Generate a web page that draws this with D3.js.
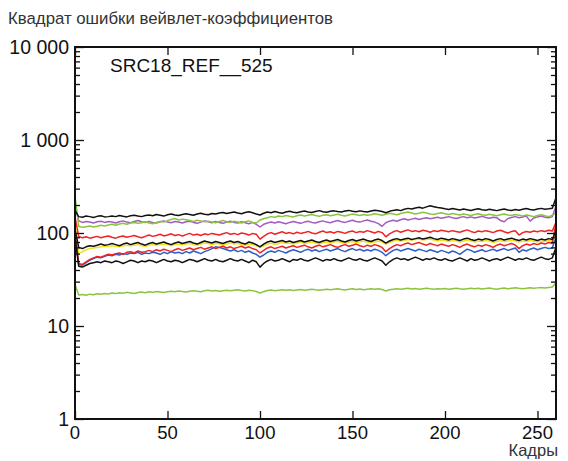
<!DOCTYPE html>
<html><head><meta charset="utf-8">
<script src="https://cdn.jsdelivr.net/npm/d3@7"></script>
<style>body{margin:0;background:#fff;} svg{display:block;font-family:"Liberation Sans",Arial,sans-serif;}</style>
</head><body>
<svg id="c" width="568" height="461"></svg>
<script>
const title = "Квадрат ошибки вейвлет-коэффициентов";
const xLabel = "Кадры";
const seqName = "SRC18_REF__525";
const xTicks = [0, 50, 100, 150, 200, 250];
const yTicks = [1, 10, 100, 1000, 10000];
const yTickLabels = ["1", "10", "100", "1 000", "10 000"];
const frameStep = 2; // values sampled every 2 frames, frames 0..260

const black1 = [175,150,148,152,150,147,151,153,149,150,
152,150,154,151,149,153,155,152,150,154,
156,153,158,155,152,157,160,156,154,158,
161,158,155,160,163,159,157,162,160,164,
166,162,165,168,164,161,166,169,165,160,
156,163,168,165,170,166,163,168,171,167,
165,169,172,168,166,170,174,169,167,171,
173,170,168,172,175,171,169,173,170,168,
172,176,173,170,165,171,175,178,174,180,
184,181,186,189,185,191,196,192,188,186,
182,179,183,180,177,181,178,175,179,182,
178,176,180,177,174,178,181,177,175,179,
176,180,183,179,177,181,184,180,182,185,240];

const greenTop = [250,118,115,117,119,116,118,121,119,122,
124,121,125,127,124,128,130,127,129,132,
128,126,130,133,131,136,140,143,138,141,
139,136,133,137,135,132,134,131,129,133,
136,132,130,134,131,128,132,135,130,128,
138,142,146,150,148,152,150,154,151,149,
153,156,152,155,158,154,151,155,157,153,
156,159,155,152,156,160,157,154,158,155,
157,161,158,155,159,163,160,157,162,165,
168,164,160,163,167,164,160,158,162,165,
161,158,162,159,156,160,157,154,158,161,
157,155,159,156,153,157,160,156,154,158,
155,152,156,153,150,154,157,153,150,155,165];

const purple = [200,135,130,133,131,128,132,134,130,133,
131,128,132,135,131,129,133,136,132,130,
133,130,128,132,135,131,129,133,131,128,
132,134,130,127,131,135,132,129,133,130,
127,131,134,130,128,132,129,126,130,124,
116,124,128,131,128,132,129,126,130,133,
130,127,131,134,130,128,132,135,131,129,
133,136,132,130,134,137,133,131,135,138,
134,131,126,118,129,134,137,134,139,142,
138,141,144,140,143,146,142,145,148,144,
147,150,146,143,147,150,146,149,145,148,
151,147,144,148,146,136,132,143,147,150,
146,149,152,134,145,149,152,148,146,150,195];

const redTop = [150,92,89,91,88,90,92,89,91,93,
90,88,91,93,90,92,94,91,89,92,
95,92,94,97,93,95,98,94,96,93,
96,99,95,97,94,98,96,99,97,95,
98,101,97,99,96,100,98,95,99,97,
86,92,98,101,97,100,103,99,101,98,
102,99,101,104,100,98,102,105,101,103,
100,104,102,99,103,105,101,104,102,106,
103,100,104,101,91,98,103,106,102,105,
108,104,106,103,107,105,102,106,104,107,
105,103,106,104,102,105,108,104,101,105,
103,106,104,101,105,107,103,100,104,106,
95,101,104,102,105,103,106,104,107,105,130];

const black2 = [110,70,68,71,73,72,74,76,74,75,
77,75,73,76,78,75,77,79,76,74,
77,79,76,78,80,77,75,78,80,77,
79,81,78,76,79,82,80,78,81,79,
77,80,82,79,81,78,76,80,78,75,
71,76,80,82,79,81,83,80,82,79,
81,83,80,82,84,81,79,82,84,81,
83,85,82,80,83,85,82,84,86,83,
81,84,86,83,78,82,85,87,84,86,
88,85,87,89,86,88,90,87,85,88,
86,84,87,85,83,86,88,85,83,86,
84,87,85,82,85,87,84,86,88,85,
83,86,84,87,85,83,86,84,87,85,105];

const yellow = [130,60,63,66,68,69,70,71,72,72,
73,72,71,73,74,73,74,75,73,72,
74,75,74,75,76,75,73,75,76,75,
76,77,75,74,76,78,77,75,77,76,
74,76,78,76,77,75,74,76,75,73,
70,73,76,78,75,77,79,77,78,76,
78,80,77,79,80,78,76,79,80,78,
80,81,79,77,80,81,79,80,82,80,
78,80,82,80,76,79,82,84,82,83,
85,84,85,86,84,85,86,84,82,84,
83,81,83,82,80,82,84,82,80,82,
81,83,82,79,81,83,81,82,84,82,
80,82,81,83,82,80,82,81,83,82,100];

const redLow = [100,47,46,49,52,54,56,55,57,59,
58,60,61,59,62,63,61,64,62,63,
65,63,66,64,67,65,63,66,68,65,
67,69,66,68,70,67,69,71,68,70,
72,69,71,68,70,72,69,71,68,66,
61,65,69,71,68,70,72,69,71,73,
70,72,74,71,69,72,74,71,73,75,
72,70,73,75,72,74,76,73,71,74,
72,75,73,70,63,68,72,75,73,76,
78,75,77,79,76,74,77,75,73,76,
74,72,75,73,70,74,76,73,71,74,
72,75,73,70,74,76,73,75,77,74,
68,73,76,74,77,75,78,76,79,77,130];

const blue = [95,46,45,48,51,53,55,54,56,58,
57,59,58,60,59,61,60,62,59,61,
60,62,61,59,62,60,63,61,62,60,
63,61,64,62,60,63,65,68,71,70,
68,66,64,66,63,65,62,64,61,59,
55,58,62,64,62,65,63,61,64,66,
64,62,65,67,64,66,63,65,67,64,
66,68,65,63,66,68,65,67,64,66,
64,67,65,62,57,61,65,67,64,66,
68,66,64,67,65,63,66,64,62,65,
63,61,64,62,59,63,67,65,62,64,
66,63,65,67,64,66,68,65,67,69,
62,66,64,67,69,66,68,70,68,69,90];

const black3 = [90,44,43,45,47,48,49,48,50,49,
48,50,49,47,49,51,50,48,50,49,
51,50,48,50,52,50,49,51,50,48,
50,52,51,49,51,53,51,50,52,50,
49,51,53,51,50,52,50,48,51,49,
43,47,50,52,50,51,53,51,49,52,
51,53,51,50,52,54,52,50,52,51,
53,51,50,52,54,52,51,53,51,50,
52,54,52,50,45,49,52,54,52,53,
51,53,55,53,51,53,52,54,52,51,
53,51,50,52,54,52,50,53,51,52,
54,52,50,52,53,51,53,55,53,51,
53,52,54,52,51,53,55,53,52,54,70];

const greenLow = [28,21.5,21.8,21.4,22.0,21.7,22.2,21.9,22.4,22.1,
22.6,22.3,22.8,22.5,23.0,22.7,22.4,22.9,23.2,22.8,
23.3,23.0,23.5,23.2,22.9,23.4,23.7,23.3,23.8,23.5,
23.2,23.6,24.0,23.7,23.4,23.9,24.2,23.8,24.1,23.7,
24.0,24.3,23.9,24.2,24.5,24.1,23.8,24.2,24.0,23.5,
22.6,23.4,24.1,24.4,24.0,24.3,24.6,24.2,24.5,24.1,
24.4,24.7,24.3,24.6,24.9,24.5,24.2,24.6,24.9,24.5,
24.8,25.1,24.7,24.4,24.8,25.1,24.7,25.0,24.6,24.9,
25.2,24.8,25.1,24.7,23.8,24.5,24.9,25.2,24.8,25.1,
25.4,25.0,25.3,24.9,25.2,25.5,25.1,24.8,25.2,25.0,
25.3,24.9,25.2,25.5,25.1,24.8,25.2,25.5,25.1,25.4,
25.0,25.3,25.6,25.2,24.9,25.3,25.6,25.2,25.5,25.8,
25.4,25.1,25.5,25.8,25.4,25.7,26.0,25.6,25.9,26.2,29];

const series = [
  {name:"greenLow", values: greenLow, color:"#8cc440"},
  {name:"yellow", values: yellow, color:"#f2e21c"},
  {name:"blue", values: blue, color:"#2f5fc4"},
  {name:"redLow", values: redLow, color:"#ee2424"},
  {name:"redTop", values: redTop, color:"#ee2424"},
  {name:"purple", values: purple, color:"#a45cc2"},
  {name:"greenTop", values: greenTop, color:"#8cc440"},
  {name:"black3", values: black3, color:"#111"},
  {name:"black2", values: black2, color:"#111"},
  {name:"black1", values: black1, color:"#111"}
];

const svg = d3.select("#c");
const L = 75, R = 556, T = 47, B = 419;
const x = d3.scaleLinear().domain([0, 260]).range([L, R]);
const y = d3.scaleLog().domain([1, 10000]).range([B, T]);

svg.append("text").attr("x", 8).attr("y", 24).attr("font-size", 16.8).attr("fill", "#333").text(title);

// series
const line = d3.line().x((d, i) => x(i * frameStep)).y(d => y(d));
const g = svg.append("g");
series.forEach(s => {
  g.append("path").attr("d", line(s.values)).attr("fill", "none")
    .attr("stroke", s.color).attr("stroke-width", 1.5).attr("stroke-linejoin", "round");
});

// axes with inward ticks
const minor = [];
for (let e = 0; e < 4; e++) for (let m = 2; m <= 9; m++) minor.push(m * Math.pow(10, e));

const axL = svg.append("g").attr("transform", `translate(${L},0)`)
  .call(d3.axisRight(y).tickValues(yTicks).tickSize(9).tickFormat(""));
axL.append("g").call(d3.axisRight(y).tickValues(minor).tickSize(5).tickFormat(""));
const axR = svg.append("g").attr("transform", `translate(${R},0)`)
  .call(d3.axisLeft(y).tickValues(yTicks).tickSize(9).tickFormat(""));
axR.append("g").call(d3.axisLeft(y).tickValues(minor).tickSize(5).tickFormat(""));
svg.append("g").attr("transform", `translate(0,${B})`)
  .call(d3.axisTop(x).tickValues(xTicks).tickSize(8).tickFormat(""));
svg.append("g").attr("transform", `translate(0,${T})`)
  .call(d3.axisBottom(x).tickValues(xTicks).tickSize(8).tickFormat(""));
svg.selectAll(".domain").remove();
svg.selectAll(".tick line").attr("stroke", "#111").attr("stroke-width", 1.3);

svg.append("rect").attr("x", L).attr("y", T).attr("width", R - L).attr("height", B - T)
  .attr("fill", "none").attr("stroke", "#111").attr("stroke-width", 2);

// tick labels
yTicks.forEach((v, i) => {
  svg.append("text").attr("x", L - 6).attr("y", y(v)).attr("dy", "0.35em")
    .attr("text-anchor", "end").attr("font-size", 19.5).attr("fill", "#111").text(yTickLabels[i]);
});
xTicks.forEach(v => {
  svg.append("text").attr("x", x(v)).attr("y", B + 20)
    .attr("text-anchor", "middle").attr("font-size", 18.5).attr("fill", "#111").text(v);
});
svg.append("text").attr("x", R + 2).attr("y", B + 37).attr("text-anchor", "end")
  .attr("font-size", 16.5).attr("fill", "#333").text(xLabel);
svg.append("text").attr("x", 110).attr("y", 72).attr("font-size", 19).attr("fill", "#111").text(seqName);
</script>
</body></html>
